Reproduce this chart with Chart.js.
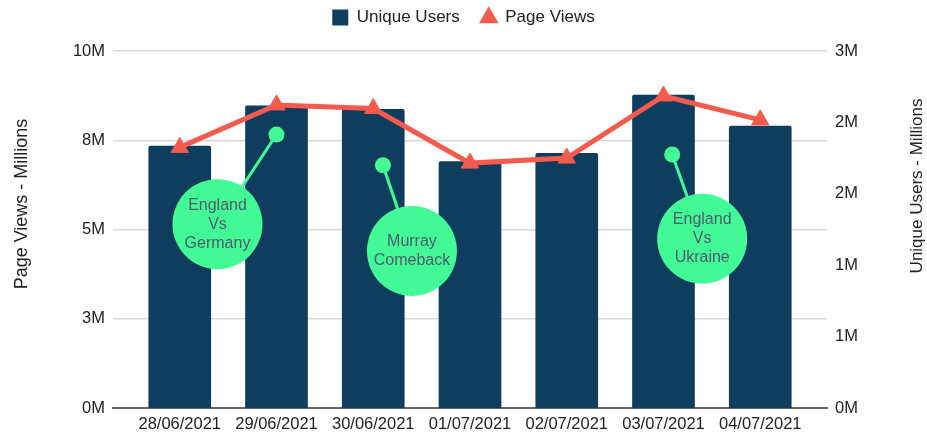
<!DOCTYPE html>
<html>
<head>
<meta charset="utf-8">
<script src="https://cdn.jsdelivr.net/npm/chart.js"></script>
<style>
  body { margin: 0; background: #fff; }
  #wrap { width: 927px; height: 435px; }
</style>
</head>
<body>
<div id="wrap"><canvas id="chart" width="927" height="435"></canvas></div>
<script>
const dates = ["28/06/2021", "29/06/2021", "30/06/2021", "01/07/2021", "02/07/2021", "03/07/2021", "04/07/2021"];
const uniqueUsers = [2.2, 2.54, 2.51, 2.07, 2.14, 2.63, 2.37]; // millions
const pageViews = [7.3, 8.49, 8.39, 6.86, 7.0, 8.74, 8.07]; // millions
const leftTicks = [0, 2.5, 5, 7.5, 10];
const rightTicks = [0, 0.6, 1.2, 1.8, 2.4, 3];

// notes: dot sits at (x, y), bubble at (bx, by) - in category index / page views units
const notes = [
  { lines: ["England", "Vs", "Germany"], x: 1.0, y: 7.66, bx: 0.39, by: 5.15 },
  { lines: ["Murray", "Comeback"], x: 2.1, y: 6.8, bx: 2.4, by: 4.4 },
  { lines: ["England", "Vs", "Ukraine"], x: 5.09, y: 7.1, bx: 5.4, by: 4.74 },
];

const NAVY = "#0f3d5e";
const RED = "#f45b4f";
const GREEN = "#43fb96";
const FONT = "Liberation Sans, Arial, sans-serif";

const notesPlugin = {
  id: "notes",
  afterDatasetsDraw(chart) {
    const ctx = chart.ctx;
    const x = chart.scales.x;
    const y = chart.scales.y;
    ctx.save();
    notes.forEach((n) => {
      const px = x.getPixelForValue(n.x);
      const py = y.getPixelForValue(n.y);
      const bx = x.getPixelForValue(n.bx);
      const by = y.getPixelForValue(n.by);
      ctx.strokeStyle = GREEN;
      ctx.lineWidth = 3;
      ctx.beginPath();
      ctx.moveTo(px, py);
      ctx.lineTo(bx, by);
      ctx.stroke();
      ctx.fillStyle = GREEN;
      ctx.beginPath();
      ctx.arc(px, py, 8, 0, Math.PI * 2);
      ctx.fill();
      ctx.beginPath();
      ctx.arc(bx, by, 45, 0, Math.PI * 2);
      ctx.fill();
      ctx.fillStyle = "#4d5b6d";
      ctx.font = "16px " + FONT;
      ctx.textAlign = "center";
      ctx.textBaseline = "middle";
      const lh = 19;
      const start = by - ((n.lines.length - 1) * lh) / 2;
      n.lines.forEach((t, i) => ctx.fillText(t, bx, start + i * lh));
    });
    ctx.restore();
  },
};

// both axis titles read bottom-to-top, so draw them by hand
const titlesPlugin = {
  id: "axisTitles",
  afterDraw(chart) {
    const ctx = chart.ctx;
    ctx.save();
    ctx.fillStyle = "#222";
    ctx.textAlign = "center";
    ctx.textBaseline = "middle";
    [["Page Views - Millions", 22, 204, 18], ["Unique Users - Millions", 917, 186, 17]].forEach(([t, cx, cy, fs]) => {
      ctx.save();
      ctx.font = fs + "px " + FONT;
      ctx.translate(cx, cy);
      ctx.rotate(-Math.PI / 2);
      ctx.fillText(t, 0, 0);
      ctx.restore();
    });
    ctx.restore();
  },
};

// leave some room under the legend
const legendGap = {
  id: "legendGap",
  beforeLayout(chart) {
    const lg = chart.legend;
    if (lg && !lg._gapPatched) {
      const fit = lg.fit;
      lg.fit = function () {
        fit.call(this);
        this.height += 15;
      };
      lg._gapPatched = true;
    }
  },
};

new Chart(document.getElementById("chart"), {
  data: {
    datasets: [
      {
        type: "bar",
        label: "Unique Users",
        data: uniqueUsers.map((v, i) => ({ x: i, y: v })),
        backgroundColor: NAVY,
        borderRadius: 2,
        barThickness: 62,
        pointStyle: "rect",
        yAxisID: "y1",
        order: 1,
      },
      {
        type: "line",
        label: "Page Views",
        data: pageViews.map((v, i) => ({ x: i, y: v })),
        borderColor: RED,
        backgroundColor: RED,
        borderWidth: 5,
        pointStyle: "triangle",
        pointRadius: 10,
        pointBorderWidth: 1,
        pointBackgroundColor: RED,
        pointBorderColor: RED,
        yAxisID: "y",
        order: 0,
      },
    ],
  },
  options: {
    responsive: false,
    animation: false,
    layout: { padding: { top: -12, bottom: 0, left: 0, right: 0 } },
    plugins: {
      tooltip: { enabled: false },
      legend: {
        position: "top",
        labels: {
          usePointStyle: true,
          boxWidth: 16,
          boxHeight: 16,
          padding: 21,
          color: "#222",
          font: { size: 17, family: FONT },
          sort: (a, b) => a.datasetIndex - b.datasetIndex,
          generateLabels(chart) {
            return Chart.defaults.plugins.legend.labels.generateLabels(chart).map((it) => {
              it.lineWidth = 0;
              it.strokeStyle = it.fillStyle;
              return it;
            });
          },
        },
      },
    },
    scales: {
      x: {
        type: "linear",
        offset: false,
        min: -0.69,
        max: 6.69,
        grid: { display: false, drawTicks: false },
        border: { display: true, color: "#666", width: 2 },
        afterBuildTicks(axis) {
          axis.ticks = dates.map((d, i) => ({ value: i }));
        },
        afterFit(axis) {
          axis.height = 27;
        },
        ticks: {
          autoSkip: false,
          maxRotation: 0,
          padding: 7,
          color: "#222",
          font: { size: 16.5, family: FONT },
          callback: (v) => dates[v],
        },
      },
      y: {
        position: "left",
        min: 0,
        max: 10,
        afterBuildTicks(axis) {
          axis.ticks = leftTicks.map((v) => ({ value: v }));
        },
        afterFit(axis) {
          axis.width = 113;
        },
        grid: { color: "#d9d9d9", lineWidth: 1.5, drawTicks: false },
        border: { display: false },
        ticks: {
          padding: 8,
          color: "#222",
          font: { size: 16.5, family: FONT },
          callback: (v) => Math.round(v) + "M",
        },
      },
      y1: {
        position: "right",
        min: 0,
        max: 3,
        afterBuildTicks(axis) {
          axis.ticks = rightTicks.map((v) => ({ value: v }));
        },
        afterFit(axis) {
          axis.width = 100;
        },
        grid: { display: false, drawTicks: false },
        border: { display: false },
        ticks: {
          padding: 8,
          color: "#222",
          font: { size: 16.5, family: FONT },
          callback: (v) => Math.round(v) + "M",
        },
      },
    },
  },
  plugins: [notesPlugin, titlesPlugin, legendGap],
});
</script>
</body>
</html>
